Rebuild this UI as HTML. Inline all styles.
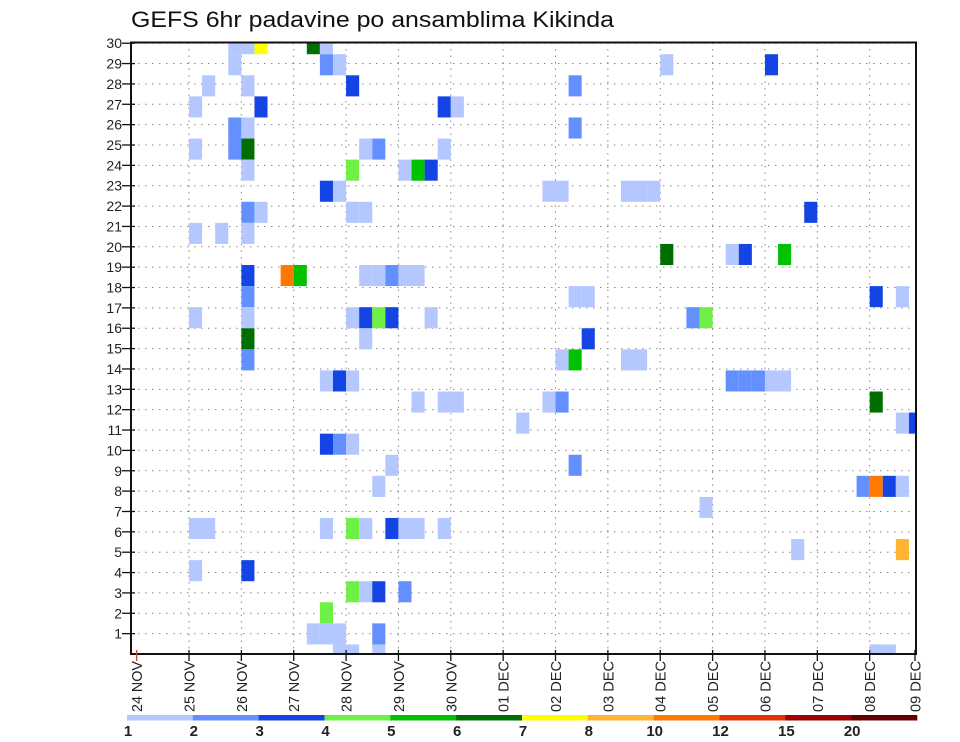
<!DOCTYPE html>
<html><head><meta charset="utf-8"><style>
html,body{margin:0;padding:0;background:#fff;}
svg{display:block;font-family:"Liberation Sans",sans-serif;}
</style></head><body>
<svg id="chart" width="960" height="742" viewBox="0 0 960 742" xmlns="http://www.w3.org/2000/svg">
<text x="131" y="27" font-size="22" fill="#111" textLength="483" lengthAdjust="spacingAndGlyphs">GEFS 6hr padavine po ansamblima Kikinda</text>
<defs><clipPath id="plotclip"><rect x="131" y="42.5" width="785" height="611.5"/></clipPath></defs>
<g id="grid"></g>
<g id="cells" clip-path="url(#plotclip)"></g>
<rect x="131" y="42.5" width="785" height="611.5" fill="none" stroke="#111" stroke-width="2"/>
<g id="yaxis"></g>
<g id="xaxis"></g>
<g id="colorbar"></g>
</svg>
<script>
const dateLabels = ["24 NOV","25 NOV","26 NOV","27 NOV","28 NOV","29 NOV","30 NOV","01 DEC","02 DEC","03 DEC","04 DEC","05 DEC","06 DEC","07 DEC","08 DEC","09 DEC"];
const memberTicks = [1,2,3,4,5,6,7,8,9,10,11,12,13,14,15,16,17,18,19,20,21,22,23,24,25,26,27,28,29,30];
const levelBreaks = [1,2,3,4,5,6,7,8,10,12,15,20,30];
const levelLabels = ["1","2","3","4","5","6","7","8","10","12","15","20"];
const levelColors = ["#b4c8ff","#6490ff","#1444e4","#6ef046","#00c200","#006e00","#ffff00","#ffb432","#ff7800","#e63200","#a00000","#640000"];
// cells: time step index (6h from 24 NOV 00), member row, precip value
const cellT = [7,8,9,13,14, 7,14,15,40,48, 5,8,16,33, 4,9,23,24, 7,8,33, 4,7,8,17,18,23, 8,16,20,21,22, 14,15,31,32,37,38,39, 8,9,16,17,51, 4,6,8, 40,45,46,49, 8,11,12,17,18,19,20,21, 8,33,34,56,58, 4,8,16,17,18,19,22,42,43, 8,17,34, 8,32,33,37,38, 14,15,16,45,46,47,48,49, 21,23,24,31,32,56, 29,58,59, 14,15,16, 19,33, 18,55,56,57,58, 43, 4,5,14,16,17,19,20,21,23, 50,58, 4,8, 16,17,18,20, 14, 13,14,15,18, 15,16,18,56,57];
const cellM = [29,29,29,29,29, 28,28,28,28,28, 27,27,27,27, 26,26,26,26, 25,25,25, 24,24,24,24,24,24, 23,23,23,23,23, 22,22,22,22,22,22,22, 21,21,21,21,21, 20,20,20, 19,19,19,19, 18,18,18,18,18,18,18,18, 17,17,17,17,17, 16,16,16,16,16,16,16,16,16, 15,15,15, 14,14,14,14,14, 13,13,13,13,13,13,13,13, 12,12,12,12,12,12, 11,11,11, 10,10,10, 9,9, 8,8,8,8,8, 7, 6,6,6,6,6,6,6,6,6, 5,5, 4,4, 3,3,3,3, 2, 1,1,1,1, 0,0,0,0,0];
const cellV = [1.5,1.5,7.5,6.5,1.5, 1.5,2.5,1.5,1.5,3.5, 1.5,1.5,3.5,2.5, 1.5,3.5,3.5,1.5, 2.5,1.5,2.5, 1.5,2.5,6.5,1.5,2.5,1.5, 1.5,4.5,1.5,5.5,3.5, 3.5,1.5,1.5,1.5,1.5,1.5,1.5, 2.5,1.5,1.5,1.5,3.5, 1.5,1.5,1.5, 6.5,1.5,3.5,5.5, 3.5,11,5.5,1.5,1.5,2.5,1.5,1.5, 2.5,1.5,1.5,3.5,1.5, 1.5,1.5,1.5,3.5,4.5,3.5,1.5,2.5,4.5, 6.5,1.5,3.5, 2.5,1.5,5.5,1.5,1.5, 1.5,3.5,1.5,2.5,2.5,2.5,1.5,1.5, 1.5,1.5,1.5,1.5,2.5,6.5, 1.5,1.5,3.5, 3.5,2.5,1.5, 1.5,2.5, 1.5,2.5,11,3.5,1.5, 1.5, 1.5,1.5,1.5,4.5,1.5,3.5,1.5,1.5,1.5, 1.5,9, 1.5,3.5, 4.5,1.5,3.5,2.5, 4.5, 1.5,1.5,1.5,2.5, 1.5,1.5,1.5,1.5,1.5];

const NS = "http://www.w3.org/2000/svg";
const PL = 131, PR = 916, PT = 42.5, PB = 654;
const STEP = 13.09;
function xScale(t){ return 189 + (t - 4) * STEP; }
function yAxis(m){ return 654 - m * 20.36; }
function yCell(m){ return 655 - m * 21.08; }
function colorFor(v){
  for (let i = 0; i < levelColors.length; i++) if (v >= levelBreaks[i] && v < levelBreaks[i+1]) return levelColors[i];
  return levelColors[levelColors.length-1];
}
function mk(tag, attrs, parent){
  const e = document.createElementNS(NS, tag);
  for (const k in attrs) e.setAttribute(k, attrs[k]);
  parent.appendChild(e); return e;
}
const grid = document.getElementById('grid');
const cells = document.getElementById('cells');
const yax = document.getElementById('yaxis');
const xax = document.getElementById('xaxis');
const cb = document.getElementById('colorbar');

memberTicks.forEach(m => {
  const y = yAxis(m);
  const gl = mk('line', {x1:PL, x2:PR, y1:y, y2:y, stroke:'#888', 'stroke-width':1, 'stroke-dasharray':'1.5 5.5'}, grid);
  
  
  const tk = mk('line', {x1:PL-9, x2:PL+4, y1:y, y2:y, stroke:'#111', 'stroke-width':1.3}, yax);
  
  
  const tx = mk('text', {x:PL-9, y:y+5, 'text-anchor':'end', 'font-size':14, fill:'#222'}, yax);
  
  
  tx.textContent = m;
});

dateLabels.forEach((d, i) => {
  let x = xScale(i * 4);
  x = Math.min(Math.max(x, 133), 915);
  if (i > 0 && i < dateLabels.length - 1) {
    const gl = mk('line', {x1:x, x2:x, y1:PT, y2:PB, stroke:'#888', 'stroke-width':1, 'stroke-dasharray':'1.5 5'}, grid);
    
    
  }
  const tk = mk('line', {x1:x, x2:x, y1:PB-4, y2:PB+7, stroke:(i===0?'#c44':'#111'), 'stroke-width':1.3}, xax);
  
  
  const tx = mk('text', {transform:'translate(' + (x+5.5) + ',661) rotate(-90)', 'text-anchor':'end', 'font-size':15, fill:'#222', textLength:51, lengthAdjust:'spacingAndGlyphs'}, xax);
  
  
  tx.textContent = d;
});

for (let i = 0; i < cellT.length; i++) {
  const h = 21.08;
  const r = mk('rect', {x:xScale(cellT[i]), y:yCell(cellM[i]) - h/2, width:STEP, height:h, fill:colorFor(cellV[i])}, cells);
  
  
}

const cbL = 127, cbR = 917, segW = (cbR - cbL) / levelColors.length;
levelColors.forEach((c, i) => {
  const r = mk('rect', {x:cbL + i*segW, y:715, width:segW + 0.3, height:5.5, fill:c}, cb);
  
  
});
levelLabels.forEach((l, i) => {
  const t = mk('text', {x:cbL + i*segW + 1, y:736, 'text-anchor':'middle', 'font-size':15, 'font-weight':'bold', fill:'#222'}, cb);
  
  
  t.textContent = l;
});
</script>
</body></html>
